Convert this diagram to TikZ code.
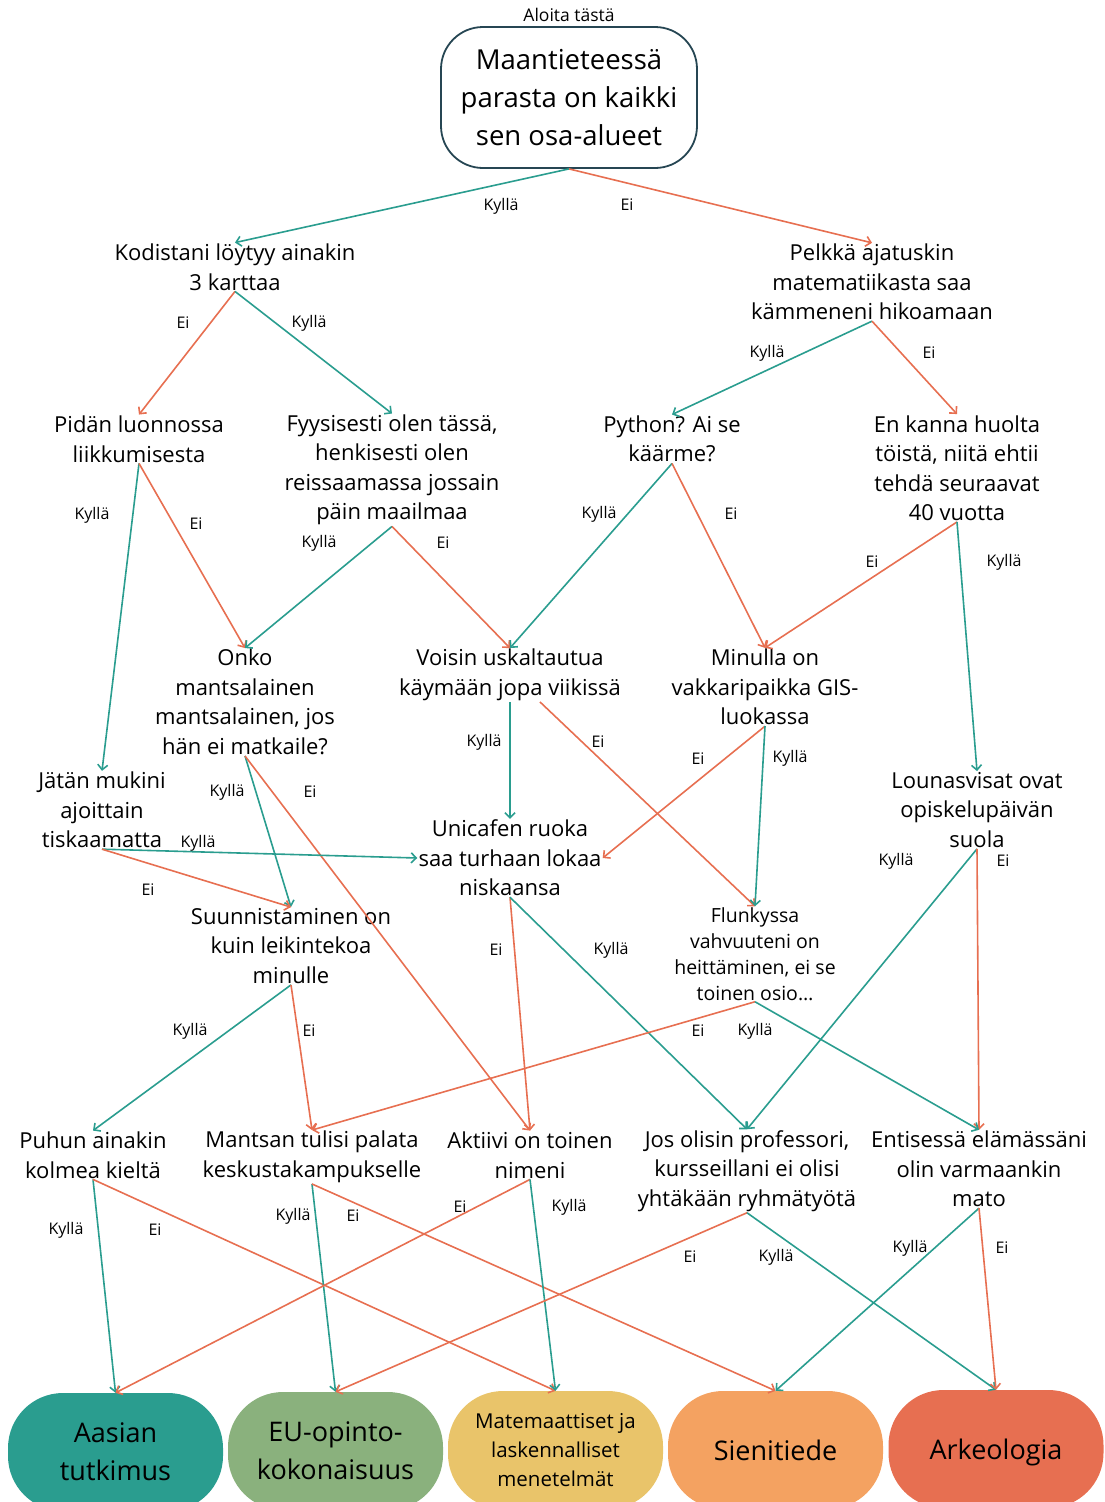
\documentclass[tikz,border=0pt]{standalone}
\usepackage{fontspec}
\setmainfont{Open Sans}
\usetikzlibrary{shapes.geometric, arrows, arrows.meta}
\definecolor{kyllacol}{HTML}{2A9D8F}
\definecolor{eicol}{HTML}{E76F51}
\definecolor{startcol}{HTML}{264653}
\definecolor{aasiacol}{HTML}{2A9D8F}
\definecolor{eucol}{HTML}{8AB17D}
\definecolor{matecol}{HTML}{E9C46A}
\definecolor{sienicol}{HTML}{F4A261}
\definecolor{arkeocol}{HTML}{E76F51}
\tikzstyle{yesline} = [line width=1.6pt,->,>={Straight Barb[length=5pt,width=10pt]},draw=kyllacol]
\tikzstyle{noline} = [line width=1.6pt,->,>={Straight Barb[length=5pt,width=10pt]},draw=eicol]
\tikzstyle{question} = [align=center, inner sep=1pt, font=\fontsize{22}{29.5}\selectfont]
\tikzstyle{answer} = [rounded corners=55pt, minimum width=215pt, minimum height=118pt, align=center, inner sep=0pt, font=\fontsize{27}{38}\selectfont]
\tikzstyle{lbl} = [inner sep=0pt, font=\fontsize{16}{18}\selectfont]

\begin{document}
\begin{tikzpicture}[x=1pt, y=-1pt]
        \useasboundingbox (0,0) rectangle (1104,1502);
        % Node positions
        \node[lbl, font=\fontsize{17.5}{20}\selectfont] (aloita) at (569,15) {Aloita tästä};
        \node[draw=startcol, line width=1.8pt, rounded corners=42pt, minimum width=256pt, minimum height=141pt, align=center, font=\fontsize{27.5}{38}\selectfont] (start) at (569,97.5) {Maantieteessä\\parasta on kaikki\\sen osa-alueet};
        \node[question] (kodistani) at (235,267) {Kodistani löytyy ainakin\\3 karttaa};
        \node[question] (pelkka) at (872,282) {Pelkkä ajatuskin\\matematiikasta saa\\kämmeneni hikoamaan};
        \node[question] (pidan) at (139,439) {Pidän luonnossa\\liikkumisesta};
        \node[question] (fyysisesti) at (392,470) {Fyysisesti olen tässä,\\henkisesti olen\\reissaamassa jossain\\päin maailmaa};
        \node[question] (python) at (672,439) {Python? Ai se\\käärme?};
        \node[question] (enkanna) at (957,468) {En kanna huolta\\töistä, niitä ehtii\\tehdä seuraavat\\40 vuotta};
        \node[question] (onko) at (245,702) {Onko\\mantsalainen\\mantsalainen, jos\\hän ei matkaile?};
        \node[question] (voisin) at (510,675) {Voisin uskaltautua\\käymään jopa viikissä};
        \node[question] (minulla) at (765,687) {Minulla on\\vakkaripaikka GIS-\\luokassa};
        \node[question] (jatan) at (102,810) {Jätän mukini\\ajoittain\\tiskaamatta};
        \node[question] (lounas) at (977,810) {Lounasvisat ovat\\opiskelupäivän\\suola};
        \node[question] (unicafe) at (510,858) {Unicafen ruoka\\saa turhaan lokaa\\niskaansa};
        \node[question] (suunn) at (291,946) {Suunnistaminen on\\kuin leikintekoa\\minulle};
        \node[question, font=\fontsize{19.5}{26}\selectfont] (flunky) at (755,954) {Flunkyssa\\vahvuuteni on\\heittäminen, ei se\\toinen osio…};
        \node[question] (puhun) at (93,1155) {Puhun ainakin\\kolmea kieltä};
        \node[question] (mantsan) at (312,1157) {Mantsan tulisi palata\\keskustakampukselle};
        \node[question] (aktiivi) at (530,1155) {Aktiivi on toinen\\nimeni};
        \node[question] (jos) at (747,1171) {Jos olisin professori,\\kursseillani ei olisi\\yhtäkään ryhmätyötä};
        \node[question] (entisessa) at (979,1169) {Entisessä elämässäni\\olin varmaankin\\mato};

        \node[answer, fill=aasiacol] (aasia) at (115.5,1452) {Aasian\\tutkimus};
        \node[answer, fill=eucol] (eu) at (335.5,1451) {EU-opinto-\\kokonaisuus};
        \node[answer, fill=matecol, font=\fontsize{20.5}{29}\selectfont] (mate) at (555.5,1450) {Matemaattiset ja\\laskennalliset\\menetelmät};
        \node[answer, fill=sienicol] (sieni) at (775.5,1450) {Sienitiede};
        \node[answer, fill=arkeocol, text depth=0pt] (arkeo) at (996,1449) {Arkeologia};

        % Kyllä / Ei labels
        \node[lbl] (l1) at (501,206) {Kyllä};
        \node[lbl] (l2) at (627,205) {Ei};
        \node[lbl] (l3) at (183,323) {Ei};
        \node[lbl] (l4) at (309,323) {Kyllä};
        \node[lbl] (l5) at (767,353) {Kyllä};
        \node[lbl] (l6) at (929,353) {Ei};
        \node[lbl] (l7) at (92,515) {Kyllä};
        \node[lbl] (l8) at (196,524) {Ei};
        \node[lbl] (l9) at (319,543) {Kyllä};
        \node[lbl] (l10) at (443,543) {Ei};
        \node[lbl] (l11) at (599,514) {Kyllä};
        \node[lbl] (l12) at (731,514) {Ei};
        \node[lbl] (l13) at (872,562) {Ei};
        \node[lbl] (l14) at (1004,562) {Kyllä};
        \node[lbl] (l15) at (484,742) {Kyllä};
        \node[lbl] (l16) at (598,742) {Ei};
        \node[lbl] (l17) at (698,759) {Ei};
        \node[lbl] (l18) at (790,758) {Kyllä};
        \node[lbl] (l19) at (227,792) {Kyllä};
        \node[lbl] (l20) at (310,792) {Ei};
        \node[lbl] (l21) at (198,843) {Kyllä};
        \node[lbl] (l22) at (148,890) {Ei};
        \node[lbl] (l23) at (896,861) {Kyllä};
        \node[lbl] (l24) at (1003,861) {Ei};
        \node[lbl] (l25) at (496,950) {Ei};
        \node[lbl] (l26) at (611,950) {Kyllä};
        \node[lbl] (l27) at (190,1031) {Kyllä};
        \node[lbl] (l28) at (309,1031) {Ei};
        \node[lbl] (l29) at (698,1031) {Ei};
        \node[lbl] (l30) at (755,1031) {Kyllä};
        \node[lbl] (l31) at (66,1230) {Kyllä};
        \node[lbl] (l32) at (155,1230) {Ei};
        \node[lbl] (l33) at (293,1216) {Kyllä};
        \node[lbl] (l34) at (353,1216) {Ei};
        \node[lbl] (l35) at (460,1207) {Ei};
        \node[lbl] (l36) at (569,1207) {Kyllä};
        \node[lbl] (l37) at (690,1257) {Ei};
        \node[lbl] (l38) at (776,1257) {Kyllä};
        \node[lbl] (l39) at (910,1248) {Kyllä};
        \node[lbl] (l40) at (1002,1248) {Ei};

        % Connectors
        \draw[yesline] (start.south) -- (kodistani.north);
        \draw[noline] (start.south) -- (pelkka.north);
        \draw[noline] (kodistani.south) -- (pidan.north);
        \draw[yesline] (kodistani.south) -- (fyysisesti.north);
        \draw[yesline] (pelkka.south) -- (python.north);
        \draw[noline] (pelkka.south) -- (enkanna.north);
        \draw[yesline] (pidan.south) -- (jatan.north);
        \draw[noline] (pidan.south) -- (onko.north);
        \draw[yesline] (fyysisesti.south) -- (onko.north);
        \draw[noline] (fyysisesti.south) -- (voisin.north);
        \draw[yesline] (python.south) -- (voisin.north);
        \draw[noline] (python.south) -- (minulla.north);
        \draw[noline] (enkanna.south) -- (minulla.north);
        \draw[yesline] (enkanna.south) -- (lounas.north);
        \draw[yesline] (onko.south) -- (suunn.north);
        \draw[noline] (onko.south) -- (aktiivi.north);
        \draw[yesline] (voisin.south) -- (unicafe.north);
        \draw[noline] ([xshift=30pt]voisin.south) -- (flunky.north);
        \draw[noline] (minulla.south) -- (unicafe.east);
        \draw[yesline] (minulla.south) -- (flunky.north);
        \draw[yesline] (jatan.south) -- (unicafe.west);
        \draw[noline] (jatan.south) -- (suunn.north);
        \draw[yesline] (lounas.south) -- (jos.north);
        \draw[noline] (lounas.south) -- (entisessa.north);
        \draw[noline] (unicafe.south) -- (aktiivi.north);
        \draw[yesline] (unicafe.south) -- (jos.north);
        \draw[yesline] (suunn.south) -- (puhun.north);
        \draw[noline] (suunn.south) -- (mantsan.north);
        \draw[noline] (flunky.south) -- (mantsan.north);
        \draw[yesline] (flunky.south) -- (entisessa.north);
        \draw[yesline] (puhun.south) -- (aasia.north);
        \draw[noline] (puhun.south) -- (mate.north);
        \draw[yesline] (mantsan.south) -- (eu.north);
        \draw[noline] (mantsan.south) -- (sieni.north);
        \draw[noline] (aktiivi.south) -- (aasia.north);
        \draw[yesline] (aktiivi.south) -- (mate.north);
        \draw[noline] (jos.south) -- (eu.north);
        \draw[yesline] (jos.south) -- (arkeo.north);
        \draw[yesline] (entisessa.south) -- (sieni.north);
        \draw[noline] (entisessa.south) -- (arkeo.north);

      \end{tikzpicture}
\end{document}
